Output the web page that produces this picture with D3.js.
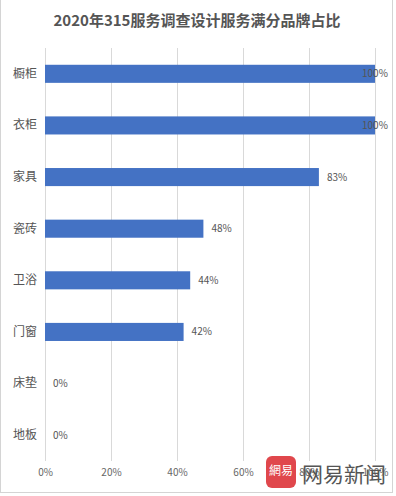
<!DOCTYPE html>
<html>
<head>
<meta charset="utf-8">
<script src="https://cdn.jsdelivr.net/npm/d3@7/dist/d3.min.js"></script>
<style>
  body { margin: 0; background: #fff; }
  text { font-family: "Noto Sans CJK SC", "Noto Sans", sans-serif; }
</style>
</head>
<body>
<svg width="396" height="496"></svg>
<script>
const categories = ['橱柜', '衣柜', '家具', '瓷砖', '卫浴', '门窗', '床垫', '地板'];
const values = [100, 100, 83, 48, 44, 42, 0, 0];
const tickValues = [0, 20, 40, 60, 80, 100];

function whenLoaded(){
    const svg = d3.select('svg');
    const width = +svg.attr('width');
    const height = +svg.attr('height');
    const margin = {top:48, right:21, bottom:35, left:45};
    const innerWidth = width - margin.left - margin.right;
    const innerHeight = height - margin.top - margin.bottom;

    const data = categories.map((c, i) => ({name: c, value: values[i]}));

    // frame
    svg.append('rect')
        .attr('x', 0.5).attr('y', -1)
        .attr('width', width - 4).attr('height', height - 2.5)
        .attr('fill', 'none')
        .attr('stroke', '#d4d4d4');

    svg.append('text')
        .text('2020年315服务调查设计服务满分品牌占比')
        .attr('x', width/2 - 1)
        .attr('y', 26)
        .attr('text-anchor', 'middle')
        .attr('font-size', 15)
        .attr('font-weight', 'bold')
        .attr('fill', '#555');

    const xScale = d3.scaleLinear()
        .domain([0, 100])
        .range([0, innerWidth]);

    const yScale = d3.scaleBand()
        .domain(categories)
        .range([0, innerHeight])
        .paddingInner(0.65)
        .paddingOuter(0.325);

    const g = svg.append('g')
        .attr('transform', `translate(${margin.left},${margin.top})`);

    const xAxis = d3.axisBottom(xScale)
        .tickValues(tickValues)
        .tickSize(-innerHeight)
        .tickPadding(8)
        .tickFormat(d => d + '%');

    const xAxisG = g.append('g')
        .attr('transform', `translate(0,${innerHeight})`)
        .call(xAxis);
    xAxisG.select('.domain').remove();
    xAxisG.selectAll('.tick line').attr('stroke', '#d9d9d9');
    xAxisG.selectAll('.tick text')
        .attr('fill', '#666')
        .attr('font-size', 10);

    const yAxis = d3.axisLeft(yScale).tickSize(0).tickPadding(8);
    const yAxisG = g.append('g').call(yAxis);
    yAxisG.select('.domain').remove();
    yAxisG.selectAll('.tick text')
        .attr('fill', '#555')
        .attr('font-size', 12);

    g.selectAll('rect.bar').data(data)
        .enter().append('rect')
        .attr('class', 'bar')
        .attr('x', 0)
        .attr('y', d => yScale(d.name))
        .attr('width', d => xScale(d.value))
        .attr('height', yScale.bandwidth())
        .attr('fill', '#4472c4');

    g.selectAll('text.val').data(data)
        .enter().append('text')
        .attr('class', 'val')
        .attr('x', d => Math.min(xScale(d.value) + 8, innerWidth - 13))
        .attr('y', d => yScale(d.name) + yScale.bandwidth()/2)
        .attr('dy', '0.35em')
        .attr('font-size', 10)
        .attr('fill', '#555')
        .text(d => d.value + '%');

    // watermark
    const wm = svg.append('g').attr('transform', 'translate(266,456)');
    wm.append('rect')
        .attr('width', 30).attr('height', 32)
        .attr('rx', 6)
        .attr('fill', '#e0474c');
    wm.append('text')
        .text('網易')
        .attr('x', 15).attr('y', 19)
        .attr('text-anchor', 'middle')
        .attr('font-size', 12)
        .attr('fill', '#fff');
    wm.append('text')
        .text('网易新闻')
        .attr('x', 36).attr('y', 26)
        .attr('font-size', 21)
        .attr('fill', '#555');
}

window.onload = whenLoaded;
</script>
</body>
</html>
